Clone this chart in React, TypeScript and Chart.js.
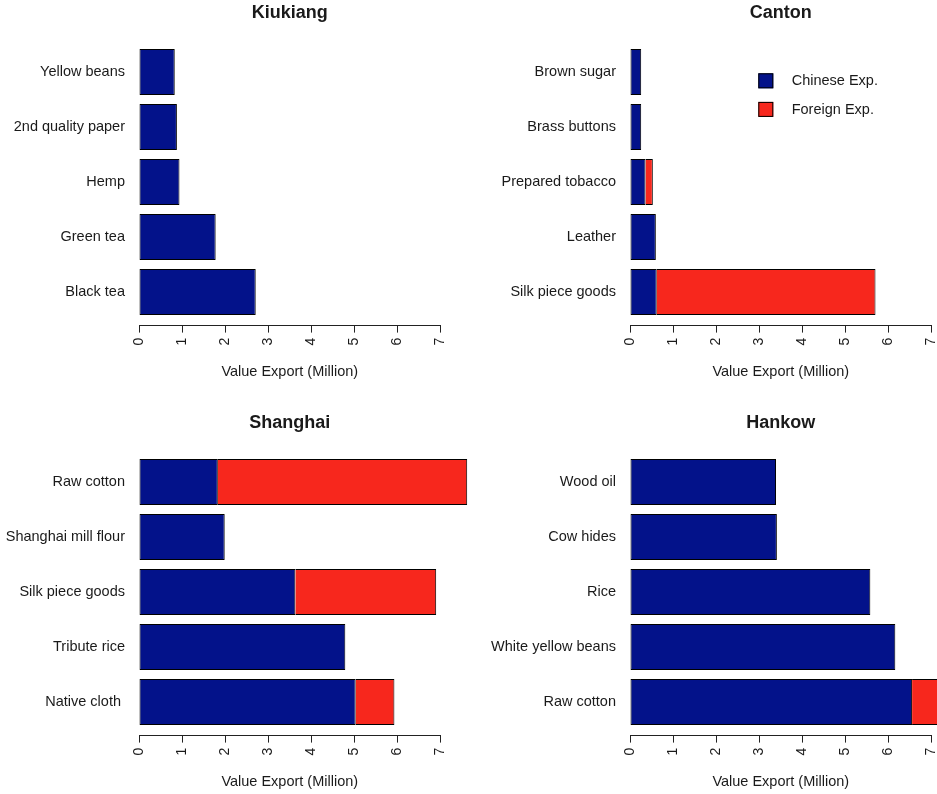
import React, { useEffect, useRef } from 'react';
import { Chart, registerables } from 'chart.js';

Chart.register(...registerables);

// ---------- data (items listed top to bottom, as in the picture) ----------
const seriesNames = ['Chinese Exp.', 'Foreign Exp.'];

const kiukiangItems = ['Yellow beans', '2nd quality paper', 'Hemp', 'Green tea', 'Black tea'];
const kiukiangChinese = [0.83, 0.88, 0.94, 1.78, 2.71];
const kiukiangForeign = [0, 0, 0, 0, 0];

const cantonItems = ['Brown sugar', 'Brass buttons', 'Prepared tobacco', 'Leather', 'Silk piece goods'];
const cantonChinese = [0.26, 0.26, 0.36, 0.6, 0.62];
const cantonForeign = [0, 0, 0.17, 0, 5.08];

const shanghaiItems = ['Raw cotton', 'Shanghai mill flour', 'Silk piece goods', 'Tribute rice', 'Native cloth '];
const shanghaiChinese = [1.83, 1.99, 3.63, 4.79, 5.03];
const shanghaiForeign = [5.79, 0, 3.27, 0, 0.9];

const hankowItems = ['Wood oil', 'Cow hides', 'Rice', 'White yellow beans', 'Raw cotton'];
const hankowChinese = [3.39, 3.41, 5.58, 6.16, 6.55];
const hankowForeign = [0, 0, 0, 0, 0.9];

const xMin = 0;
const xMax = 7;
const xStep = 1;
const xTitle = 'Value Export (Million)';

// ---------- styles ----------
const FONT = '"Liberation Sans", Arial, Helvetica, sans-serif';
const TEXT = '#1a1a1a';
const BLUE = '#03128A';
const RED = '#F7271D';
const SPACE = 0.2; // barplot space between bars
const PANEL_H = 390;
const PLOT_LEFT = 139;
const PLOT_W = 301.5;
const PLOT_TOP = 38.4;
const PLOT_BOTTOM = 325.6;

Chart.defaults.font.family = FONT;
Chart.defaults.color = TEXT;

const legendPlugin = {
  id: 'insideLegend',
  afterDatasetsDraw(chart: any) {
    const { ctx, chartArea } = chart;
    const size = 15;
    const x0 = chartArea.left + 128.3;
    const y0 = chartArea.top + 34.9;
    const step = 28.6;
    ctx.save();
    chart.data.datasets.forEach((ds: any, i: number) => {
      const y = y0 + i * step;
      ctx.fillStyle = ds.backgroundColor;
      ctx.fillRect(x0, y, size, size);
      ctx.strokeStyle = '#000';
      ctx.lineWidth = 1;
      ctx.strokeRect(x0 + 0.5, y + 0.5, size - 1, size - 1);
      ctx.fillStyle = TEXT;
      ctx.font = `14.5px ${FONT}`;
      ctx.textAlign = 'left';
      ctx.textBaseline = 'middle';
      ctx.fillText(ds.label, chartArea.left + 161.7, y + size / 2 + 0.5);
    });
    ctx.restore();
  },
};

type PanelProps = {
  title: string;
  items: string[];
  chinese: number[];
  foreign: number[];
  left: number;
  top: number;
  width: number;
  showLegend?: boolean;
};

function Panel({ title, items, chinese, foreign, left, top, width, showLegend }: PanelProps) {
  const ref = useRef<HTMLCanvasElement>(null);

  useEffect(() => {
    const canvas = ref.current;
    if (!canvas) return;
    const n = items.length;
    // R barplot convention: bar k (top-to-bottom) sits at bottom index n-1-k
    const center = (k: number) => SPACE + (n - 1 - k) * (1 + SPACE) + 0.5;
    const lo = SPACE;
    const hi = n * (1 + SPACE);
    const ext = 0.04 * (hi - lo);

    const common = {
      borderColor: '#000',
      borderWidth: 1,
      clip: false as any,
      barPercentage: 1 / (1 + SPACE),
      categoryPercentage: 1,
    };

    const chart = new Chart(canvas, {
      type: 'bar',
      data: {
        datasets: [
          {
            ...common,
            label: seriesNames[0],
            data: chinese.map((v, k) => ({ x: v > 0 ? v : null, y: center(k) })) as any,
            backgroundColor: BLUE,
            borderSkipped: false,
          },
          {
            ...common,
            label: seriesNames[1],
            data: foreign.map((v, k) => ({ x: v > 0 ? v : null, y: center(k) })) as any,
            backgroundColor: RED,
            borderSkipped: 'start',
          },
        ],
      },
      options: {
        indexAxis: 'y',
        responsive: false,
        animation: false,
        events: [],
        layout: {
          padding: { left: 0, right: width - PLOT_LEFT - PLOT_W, top: 0, bottom: 0 },
        },
        plugins: {
          legend: { display: false },
          tooltip: { enabled: false },
          title: {
            display: true,
            text: title,
            fullSize: false,
            color: TEXT,
            font: { size: 18, weight: 'bold', family: FONT, lineHeight: 1.2 },
            padding: { top: PLOT_TOP - 14.3 - 21.6, bottom: 14.3 },
          },
        },
        scales: {
          x: {
            type: 'linear',
            position: 'bottom',
            min: xMin,
            max: xMax,
            stacked: true,
            offset: false,
            ticks: {
              stepSize: xStep,
              autoSkip: false,
              minRotation: 90,
              maxRotation: 90,
              padding: 5,
              color: TEXT,
              font: { size: 14, family: FONT },
            },
            grid: {
              display: true,
              offset: false,
              drawOnChartArea: false,
              drawTicks: true,
              tickLength: 7,
              color: '#222',
              lineWidth: 1,
            },
            border: { display: true, color: '#222', width: 1 },
            title: {
              display: true,
              text: xTitle,
              color: TEXT,
              font: { size: 14.5, family: FONT, lineHeight: 1.2 },
              padding: { top: 0, bottom: PANEL_H - 372 - 8.7 },
            },
            afterFit(scale: any) {
              scale.height = PANEL_H - PLOT_BOTTOM;
              scale.paddingLeft = 0;
              scale.paddingRight = 0;
            },
          },
          y: {
            type: 'linear',
            position: 'left',
            min: lo - ext,
            max: hi + ext,
            stacked: true,
            offset: false,
            afterBuildTicks(scale: any) {
              scale.ticks = items.map((_, k) => ({ value: center(k) }));
            },
            ticks: {
              autoSkip: false,
              padding: 14,
              color: TEXT,
              font: { size: 14.5, family: FONT },
              callback: (value: any) => {
                const k = n - 1 - Math.round((Number(value) - SPACE - 0.5) / (1 + SPACE));
                return items[k] ?? '';
              },
            },
            grid: { display: false, drawTicks: false, offset: false },
            border: { display: false },
            afterFit(scale: any) {
              scale.width = PLOT_LEFT;
              scale.paddingTop = 0;
              scale.paddingBottom = 0;
            },
          },
        },
      } as any,
      plugins: showLegend ? [legendPlugin] : [],
    });
    return () => chart.destroy();
  }, []);

  return (
    <canvas
      ref={ref}
      width={width}
      height={PANEL_H}
      style={{ position: 'absolute', left, top, width, height: PANEL_H, display: 'block' }}
    />
  );
}

export default function App() {
  const rightX = 491;
  const bottomY = 410;
  return (
    <div
      style={{
        position: 'absolute',
        left: 0,
        top: 0,
        width: 937,
        height: 794,
        overflow: 'hidden',
        background: '#fff',
      }}
    >
      <Panel title="Kiukiang" items={kiukiangItems} chinese={kiukiangChinese} foreign={kiukiangForeign} left={0} top={0} width={rightX} />
      <Panel title="Canton" items={cantonItems} chinese={cantonChinese} foreign={cantonForeign} left={rightX} top={0} width={937 - rightX} showLegend />
      <Panel title="Shanghai" items={shanghaiItems} chinese={shanghaiChinese} foreign={shanghaiForeign} left={0} top={bottomY} width={rightX} />
      <Panel title="Hankow" items={hankowItems} chinese={hankowChinese} foreign={hankowForeign} left={rightX} top={bottomY} width={937 - rightX} />
    </div>
  );
}
